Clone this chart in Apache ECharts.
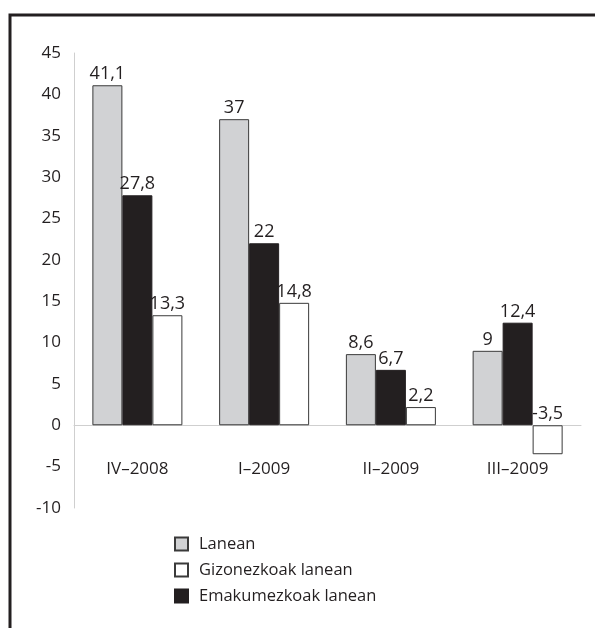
<!DOCTYPE html>
<html><head><meta charset="utf-8">
<script src="https://cdn.jsdelivr.net/npm/echarts@6/dist/echarts.min.js"></script>
<style>html,body{margin:0;padding:0;background:#fff}#c{width:595px;height:628px}</style>
</head><body><div id="c"></div>
<script>
var categories = ['IV\u20132008', 'I\u20132009', 'II\u20132009', 'III\u20132009'];
var lanean = [41.1, 37, 8.6, 9];
var emakumezkoak = [27.8, 22, 6.7, 12.4];
var gizonezkoak = [13.3, 14.8, 2.2, -3.5];
var yTicks = [-10, 45, 5];

var FONT = '"Open Sans", "Noto Sans", sans-serif';
var TXT = '#231f20';
function fmt(p){ return String(p.value).replace('.', ','); }
function lbl(){ return {show:true, position:'top', distance:2, formatter:fmt, color:TXT, fontSize:18, fontFamily:FONT}; }

var chart = echarts.init(document.getElementById('c'));
chart.setOption({
  animation:false,
  backgroundColor:'#fff',
  grid:{left:74, right:14, top:53, bottom:120},
  legend:{
    orient:'vertical', left:169, top:528, itemWidth:13, itemHeight:13, itemGap:4,
    icon:'rect',
    data:['Lanean','Gizonezkoak lanean','Emakumezkoak lanean'],
    textStyle:{color:TXT, fontSize:16.5, fontFamily:FONT, lineHeight:22, padding:[0,0,0,6]}
  },
  xAxis:{
    type:'category', data:categories,
    axisLine:{onZero:true, lineStyle:{color:'#cfcfcf', width:1}},
    axisTick:{show:false},
    axisLabel:{color:TXT, fontSize:17, fontFamily:FONT, margin:-47}
  },
  yAxis:{
    type:'value', min:yTicks[0], max:yTicks[1], interval:yTicks[2],
    axisLine:{show:true, lineStyle:{color:'#cfcfcf', width:1}},
    axisTick:{show:false},
    splitLine:{show:false},
    axisLabel:{color:TXT, fontSize:17, fontFamily:FONT, margin:13}
  },
  series:[
    {name:'Lanean', type:'bar', data:lanean, barWidth:30, barGap:'0%',
     itemStyle:{color:'#d1d2d4', borderColor:'#3a3a3a', borderWidth:1}, label:lbl()},
    {name:'Emakumezkoak lanean', type:'bar', data:emakumezkoak, barWidth:30, barGap:'0%',
     itemStyle:{color:'#231f20', borderColor:'#231f20', borderWidth:1}, label:lbl()},
    {name:'Gizonezkoak lanean', type:'bar', data:gizonezkoak, barWidth:30, barGap:'0%',
     itemStyle:{color:'#ffffff', borderColor:'#3a3a3a', borderWidth:1}, label:lbl()}
  ],
  graphic:[{type:'rect', shape:{x:10, y:15, width:700, height:800},
    style:{fill:'none', stroke:'#231f20', lineWidth:3}, silent:true}]
});
</script></body></html>
